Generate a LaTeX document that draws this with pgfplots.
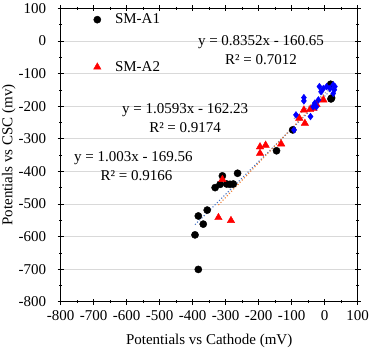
\documentclass[border=0pt]{standalone}
\usepackage{fontspec}
\setmainfont{Liberation Serif}
\usepackage{pgfplots}
\pgfplotsset{compat=1.18}
\definecolor{tlblue}{HTML}{4472C4}
\definecolor{tlorange}{HTML}{ED7D31}
\definecolor{tlgray}{HTML}{A5A5A5}
\definecolor{gridc}{HTML}{D9D9D9}
\definecolor{dblue}{HTML}{0000FF}
\begin{document}
\begin{tikzpicture}[font=\fontsize{15bp}{18bp}\selectfont]
\begin{axis}[
  scale only axis, width=297bp, height=293.4bp,
  xmin=-800, xmax=100, ymin=-800, ymax=100,
  xtick={-800,-700,...,100}, ytick={-800,-700,...,100},
  minor tick num=1,
  tick align=center,
  major tick length=6bp, minor tick length=3bp,
  ymajorgrids, grid style={gridc, line width=0.8pt},
  axis line style={black, line width=0.8pt},
  tick style={black, line width=0.6pt},
  /pgf/number format/assume math mode=true,
  ticklabel style={font=\fontsize{15bp}{18bp}\selectfont},
  yticklabel style={xshift=-8bp},
  xticklabel style={yshift=-2bp},
  xlabel={Potentials vs Cathode (mV)},
  ylabel={Potentials vs CSC (mv)},
  xlabel style={at={(axis description cs:0.5,-0.135)}, anchor=center},
  ylabel style={at={(axis description cs:-0.175,0.5)}, anchor=center},
  legend style={at={(axis description cs:0.10,0.995)}, anchor=north west,
    draw=none, fill=none, row sep=32bp, column sep=12bp,
    font=\fontsize{15bp}{18bp}\selectfont},
  legend cell align=left,
]
% SM-A1
\addplot[only marks, mark=*, mark size=3.6bp, black, mark options={fill=black, draw=black}] coordinates {
(-393,-595) (-383,-701) (-383,-537) (-368,-562) (-356,-519)
(-332,-450) (-317,-440) (-310,-414) (-297,-439) (-287,-440)
(-277,-439) (-264,-406) (-146,-337) (-97,-273) (18,-133) (19,-178) (21,-175)
};
\addlegendentry{SM-A1}
% SM-A2
\addplot[only marks, mark=triangle*, mark size=4.3bp, red, mark options={fill=red, draw=red}] coordinates {
(-310,-425) (-322,-542) (-284,-551) (-196,-325) (-196,-345) (-179,-320)
(-132,-316) (-77,-237) (-63,-212) (-60,-253) (-44,-210) (-34,-207)
(-25,-195) (-4,-181)
};
\addlegendentry{SM-A2}
% third series
\addplot[only marks, mark=diamond*, mark size=3.4bp, dblue, mark options={fill=dblue, draw=dblue}, forget plot] coordinates {
(-93,-273) (-87,-227) (-63,-174) (-63,-184) (-43,-232) (-35,-202)
(-30,-191) (-25,-202) (-19,-181) (-16,-140) (-11,-156) (-4,-146)
(6,-140) (16,-146) (26,-135) (31,-140) (26,-161) (29,-150)
};
% trendlines
\addplot[tlblue, dotted, line width=1.1pt, forget plot] coordinates {(-393,-563.7) (21,-148.5)};
\addplot[tlorange, dotted, line width=1.1pt, forget plot] coordinates {(-322,-503.3) (-4,-166.5)};
\addplot[tlgray, dotted, line width=1.1pt, forget plot] coordinates {(-93,-238.3) (31,-134.8)};
% equations
\node at (axis cs:-193,-5) {y = 0.8352x - 160.65};
\node at (axis cs:-193,-56) {R² = 0.7012};
\node at (axis cs:-423,-212) {y = 1.0593x - 162.23};
\node at (axis cs:-423,-265) {R² = 0.9174};
\node at (axis cs:-580,-359) {y = 1.003x - 169.56};
\node at (axis cs:-570,-413) {R² = 0.9166};
\end{axis}
\pgfresetboundingbox
\useasboundingbox (-60.7bp,-49.3bp) rectangle (310.3bp,301.7bp);
\end{tikzpicture}
\end{document}
